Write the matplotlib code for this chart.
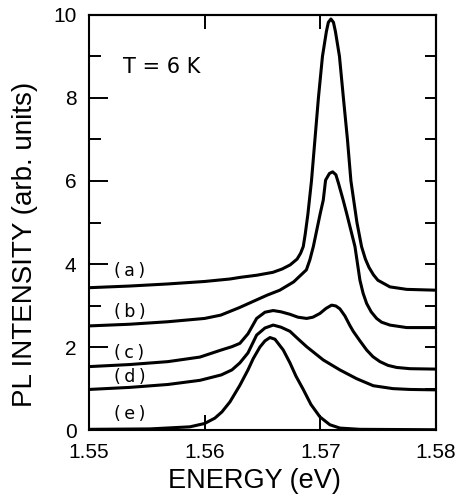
import matplotlib
matplotlib.use("Agg")
import matplotlib.pyplot as plt

plt.rcParams['font.family'] = ['Liberation Sans', 'DejaVu Sans']

# PL spectra at T = 6 K (energy in eV, intensity arb. units)
energy_a = [1.5500, 1.5535, 1.5568, 1.5600, 1.5622, 1.5631, 1.5645, 1.5659, 1.5667, 1.5674,
            1.5680, 1.5683, 1.56853, 1.5687, 1.56893, 1.56924, 1.56954, 1.56984, 1.57019,
            1.57053, 1.5707, 1.57092, 1.57114, 1.57131, 1.57166, 1.57200, 1.57235, 1.57265,
            1.57317, 1.57357, 1.5739, 1.57421, 1.5746, 1.57498, 1.57602, 1.57747, 1.5800]
pl_a = [3.43, 3.47, 3.52, 3.58, 3.64, 3.68, 3.73, 3.80, 3.88, 3.98,
        4.12, 4.26, 4.42, 4.72, 5.2, 6.0, 7.0, 8.0, 9.0,
        9.6, 9.82, 9.9, 9.82, 9.6, 9.0, 8.0, 7.0, 6.0,
        5.0, 4.42, 4.12, 3.92, 3.74, 3.61, 3.45, 3.39, 3.37]

energy_b = [1.5500, 1.5535, 1.5568, 1.5600, 1.5614, 1.5630, 1.5654, 1.5665, 1.5677, 1.5688,
            1.5691, 1.5694, 1.5700, 1.57026, 1.57046, 1.57079, 1.57107, 1.57135, 1.57157,
            1.57198, 1.57228, 1.57300, 1.57343, 1.5737, 1.57401, 1.5744, 1.57487, 1.5753,
            1.57602, 1.57747, 1.5800]
pl_b = [2.51, 2.55, 2.61, 2.69, 2.77, 2.95, 3.25, 3.37, 3.57, 3.86,
        4.10, 4.42, 5.22, 5.54, 6.02, 6.18, 6.22, 6.15, 5.95,
        5.54, 5.22, 4.42, 3.61, 3.30, 3.05, 2.85, 2.69, 2.60,
        2.53, 2.47, 2.47]

energy_c = [1.5500, 1.55354, 1.55683, 1.5596, 1.56144, 1.56236, 1.56305, 1.56375, 1.5645,
            1.56522, 1.56593, 1.5666, 1.56738, 1.56807, 1.56882, 1.56936, 1.56997, 1.57049,
            1.57098, 1.57135, 1.5717, 1.57213, 1.57256, 1.57285, 1.57343, 1.57401, 1.57455,
            1.57516, 1.57585, 1.5766, 1.57775, 1.5800]
pl_c = [1.53, 1.58, 1.65, 1.76, 1.93, 2.01, 2.09, 2.32, 2.69,
        2.84, 2.88, 2.85, 2.79, 2.72, 2.69, 2.72, 2.81, 2.93,
        3.01, 2.99, 2.92, 2.75, 2.52, 2.38, 2.15, 1.93, 1.77,
        1.65, 1.56, 1.51, 1.48, 1.47]

energy_d = [1.5500, 1.55354, 1.55683, 1.5596, 1.56144, 1.56236, 1.56305, 1.56375, 1.5645,
            1.56522, 1.56593, 1.5666, 1.56738, 1.56807, 1.56882, 1.57026, 1.5717, 1.57314,
            1.57458, 1.57628, 1.57775, 1.5800]
pl_d = [0.98, 1.03, 1.10, 1.20, 1.33, 1.45, 1.62, 1.86, 2.29,
        2.46, 2.53, 2.48, 2.38, 2.20, 2.01, 1.69, 1.45, 1.24,
        1.07, 1.00, 0.98, 0.97]

energy_e = [1.5500, 1.55527, 1.55873, 1.5600, 1.56089, 1.5615, 1.56219, 1.56305, 1.56375,
            1.5642, 1.56478, 1.56522, 1.56565, 1.56608, 1.5668, 1.56738, 1.5679, 1.56853,
            1.56919, 1.56997, 1.57083, 1.5717, 1.57343, 1.5800]
pl_e = [0.02, 0.03, 0.08, 0.16, 0.29, 0.44, 0.68, 1.08, 1.45,
        1.72, 2.00, 2.15, 2.23, 2.19, 1.93, 1.62, 1.30, 0.98,
        0.62, 0.32, 0.13, 0.05, 0.02, 0.01]

curve_labels = ['(\u2009a\u2009)', '(\u2009b\u2009)', '(\u2009c\u2009)', '(\u2009d\u2009)', '(\u2009e\u2009)']
label_y = [3.84, 2.85, 1.85, 1.29, 0.40]

fig = plt.figure(figsize=(4.56, 4.95), dpi=100)
ax = fig.add_axes([0.195, 0.131, 0.761, 0.839])

for en, pl in [(energy_a, pl_a), (energy_b, pl_b), (energy_c, pl_c),
               (energy_d, pl_d), (energy_e, pl_e)]:
    ax.plot(en, pl, color='black', lw=2.2, solid_joinstyle='round')

for lab, y in zip(curve_labels, label_y):
    ax.text(1.5522, y, lab, fontsize=12.5, family='DejaVu Sans', ha='left', va='center')

ax.text(1.55294, 8.6, 'T = 6 K', fontsize=15, family='DejaVu Sans', ha='left', va='baseline')

ax.set_xlim(1.55, 1.58)
ax.set_ylim(0, 10)

ax.set_xticks([1.55, 1.56, 1.57, 1.58])
ax.set_xticklabels(['1.55', '1.56', '1.57', '1.58'])
ax.set_yticks([0, 2, 4, 6, 8, 10])
ax.set_yticks([1, 3, 5, 7, 9], minor=True)

ax.tick_params(axis='x', direction='in', length=10.8, width=1.4, pad=9, labelsize=15)
ax.tick_params(axis='y', which='major', direction='in', length=13.7, width=1.4, pad=9, labelsize=15)
ax.tick_params(axis='y', which='minor', direction='in', length=8.6, width=1.4)

for sp in ax.spines.values():
    sp.set_linewidth(1.5)

# ticks on the right and top frame, no labels
right = ax.secondary_yaxis('right')
right.set_yticks(range(1, 10))
right.tick_params(direction='in', length=7.9, width=1.4, labelright=False)
right.spines['right'].set_linewidth(1.5)

top = ax.secondary_xaxis('top')
top.set_xticks([1.56, 1.57])
top.tick_params(direction='in', length=10, width=1.4, labeltop=False)
top.spines['top'].set_linewidth(1.5)

ax.set_xlabel('ENERGY (eV)', fontsize=19.5)
ax.xaxis.set_label_coords(0.476, -0.09)
ax.set_ylabel('PL INTENSITY (arb. units)', fontsize=20)
ax.yaxis.set_label_coords(-0.147, 0.448)

fig.savefig('out.png', dpi=100)
